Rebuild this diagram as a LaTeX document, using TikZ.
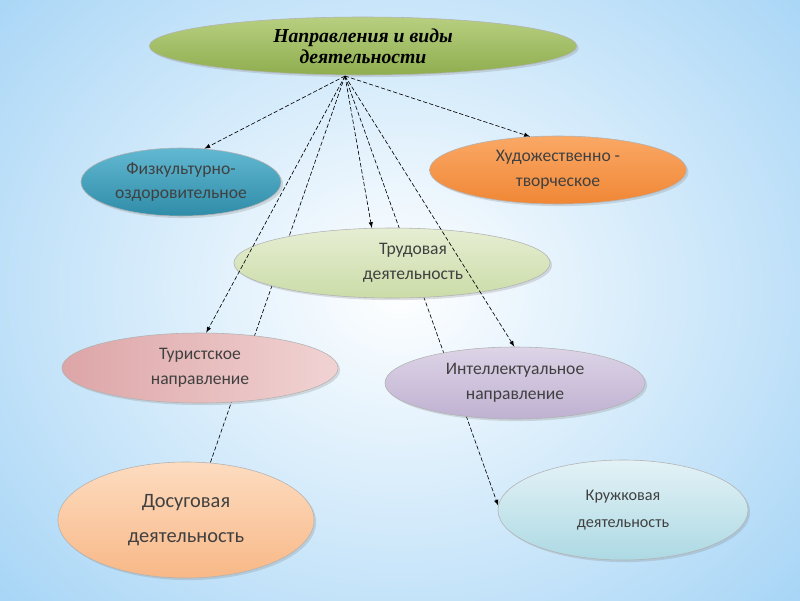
\documentclass[tikz,border=0pt]{standalone}
\usepackage{fontspec}
\setmainfont{Carlito}
\newfontfamily\titlefont{Liberation Serif}
\usepackage{tikz}
\usetikzlibrary{shapes.geometric,shadows}
\pgfdeclarelayer{back}
\pgfdeclarelayer{front}
\pgfsetlayers{back,main,front}

\definecolor{skyedge}{HTML}{9ED1F5}
\definecolor{olivetop}{HTML}{B7CF80}
\definecolor{olivebot}{HTML}{8FAE4F}
\definecolor{tealtop}{HTML}{62B8D1}
\definecolor{tealbot}{HTML}{2F8CA8}
\definecolor{orangetop}{HTML}{FAA865}
\definecolor{orangebot}{HTML}{F08736}
\definecolor{sagetop}{HTML}{E6EED3}
\definecolor{sagebot}{HTML}{CBDCA8}
\definecolor{rosetop}{HTML}{F1D3D3}
\definecolor{rosebot}{HTML}{DDA5A7}
\definecolor{lilactop}{HTML}{DDD4E7}
\definecolor{lilacbot}{HTML}{BFB1D1}
\definecolor{peachtop}{HTML}{FDDCC0}
\definecolor{peachbot}{HTML}{F8B887}
\definecolor{icetop}{HTML}{E3F2F6}
\definecolor{icebot}{HTML}{ADD9E4}

\begin{document}
\begin{tikzpicture}[x=0.025cm,y=-0.025cm]
        \tikzstyle{blob} = [ellipse, draw=black!30, line width=0.4pt, inner sep=0pt, align=center,
                font=\fontsize{12.5}{17.5}\selectfont, text=black!75,
                drop shadow={opacity=0.25, shadow xshift=1.5pt, shadow yshift=-1.5pt}]
        \tikzstyle{link} = [>=latex, dash pattern=on 3pt off 1.5pt, line width=0.45pt]
        \useasboundingbox (0,0) rectangle (800,600);

        \begin{pgfonlayer}{back}
        \fill[skyedge] (0,0) rectangle (800,600);
        \shade[inner color=white, outer color=skyedge] (-200,-220) rectangle (1000,800);
        \end{pgfonlayer}

        \node[blob, minimum width=10.68cm, minimum height=1.45cm, top color=olivetop, bottom color=olivebot,
              font=\titlefont\bfseries\itshape\fontsize{14}{15}\selectfont, text=black]
              (top) at (363,46) {Направления и виды\\деятельности};
        \node[blob, minimum width=5cm, minimum height=1.7cm, top color=tealtop, bottom color=tealbot]
              (fiz) at (181,182) {Физкультурно-\\оздоровительное};
        \node[blob, minimum width=6.42cm, minimum height=1.7cm, top color=orangetop, bottom color=orangebot]
              (hud) at (558,170) {Художественно -\\творческое};
        \node[blob, minimum width=7.9cm, minimum height=1.75cm, top color=sagetop, bottom color=sagebot]
              (trud) at (392,263) {\hspace*{30pt}Трудовая\\\hspace*{30pt}деятельность};
        \node[blob, minimum width=6.9cm, minimum height=1.75cm, left color=rosebot, right color=rosetop]
              (tur) at (200,368) {Туристское\\направление};
        \node[blob, minimum width=6.5cm, minimum height=1.8cm, top color=lilactop, bottom color=lilacbot]
              (int) at (515,383) {Интеллектуальное\\направление};
        \node[blob, minimum width=6.4cm, minimum height=2.9cm, top color=peachtop, bottom color=peachbot,
              font=\fontsize{14.5}{25}\selectfont]
              (dos) at (186,520) {Досуговая\\деятельность};
        \node[blob, minimum width=6.25cm, minimum height=2.5cm, top color=icetop, bottom color=icebot,
              font=\fontsize{11.5}{19}\selectfont]
              (kru) at (623,510) {Кружковая\\деятельность};

        \coordinate (hub) at (345,76);

        % short links lie over the ellipses, long ones pass behind them
        \begin{pgfonlayer}{front}
        \foreach \to/\ang in {fiz/55, hud/130, trud/120, tur/80, int/91}
            \draw[link, ->] (hub) -- (\to.\ang);
        \end{pgfonlayer}
        \begin{pgfonlayer}{back}
        \draw[link] (hub) -- (dos.67);
        \draw[link, ->] (hub) -- (kru.178);
        \end{pgfonlayer}
      \end{tikzpicture}
\end{document}
